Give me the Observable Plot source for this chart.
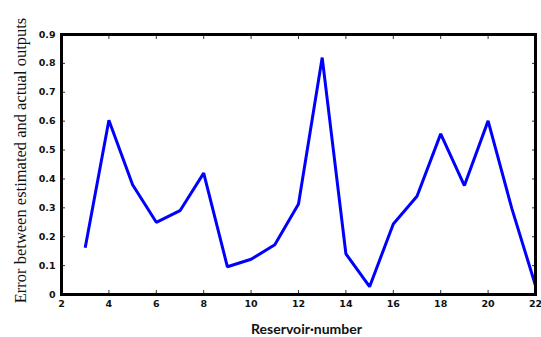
<!DOCTYPE html>
<html>
<head>
<meta charset="utf-8">
<script src="https://cdn.jsdelivr.net/npm/d3@7"></script>
<script src="https://cdn.jsdelivr.net/npm/@observablehq/plot@0.6"></script>
<style>
  html, body { margin: 0; padding: 0; background: #fff; }
  #chart svg { display: block; }
</style>
</head>
<body>
<div id="chart"></div>
<script>
// Data
const reservoirs = [3, 4, 5, 6, 7, 8, 9, 10, 11, 12, 13, 14, 15, 16, 17, 18, 19, 20, 21, 22];
const errors = [0.162, 0.603, 0.38, 0.25, 0.29, 0.42, 0.096, 0.122, 0.172, 0.313, 0.82, 0.141, 0.027, 0.244, 0.34, 0.556, 0.377, 0.601, 0.298, 0.031];
const xTicks = [2, 4, 6, 8, 10, 12, 14, 16, 18, 20, 22];
const yTicks = [0, 0.1, 0.2, 0.3, 0.4, 0.5, 0.6, 0.7, 0.8, 0.9];
const xTitle = "Reservoir·number";
const yTitle = "Error between estimated and actual outputs";

const data = reservoirs.map((r, i) => ({x: r, y: errors[i]}));

const tickFont = {fontFamily: "DejaVu Sans", fontWeight: "bold", fontSize: 9.5, fill: "#111"};

const chart = Plot.plot({
  width: 541,
  height: 337,
  marginLeft: 61,
  marginRight: 6,
  marginTop: 34,
  marginBottom: 43,
  x: {domain: [2, 22], axis: null},
  y: {domain: [0, 0.9], axis: null},
  style: {background: "#fff", overflow: "visible"},
  marks: [
    Plot.line(data, {x: "x", y: "y", stroke: "#0000ff", strokeWidth: 3, strokeLinejoin: "miter", strokeLinecap: "butt"}),
    Plot.axisX(xTicks, {anchor: "bottom", label: null, tickSize: -4, tickPadding: 10, tickFormat: d => String(d), stroke: "#333", ...tickFont}),
    Plot.axisX(xTicks, {anchor: "top", label: null, tickSize: -4, tickFormat: () => "", stroke: "#333"}),
    Plot.axisY(yTicks, {anchor: "left", label: null, tickSize: -4, tickPadding: 10, tickFormat: d => String(d), stroke: "#333", ...tickFont}),
    Plot.axisY(yTicks, {anchor: "right", label: null, tickSize: -4, tickFormat: () => "", stroke: "#333"}),
    Plot.frame({stroke: "#000", strokeWidth: 3}),
    Plot.text([xTitle], {frameAnchor: "bottom", textAnchor: "middle", dx: 8, dy: 39, lineAnchor: "bottom", text: d => d,
      fontFamily: "Lato", fontWeight: "bold", fontSize: 14, fill: "#111"}),
    Plot.text([yTitle], {frameAnchor: "left", textAnchor: "middle", dx: -41, dy: -4, rotate: -90, lineAnchor: "middle", text: d => d,
      fontFamily: "Liberation Serif", fontSize: 16.5, fill: "#111"})
  ]
});
document.getElementById("chart").appendChild(chart);
</script>
</body>
</html>
